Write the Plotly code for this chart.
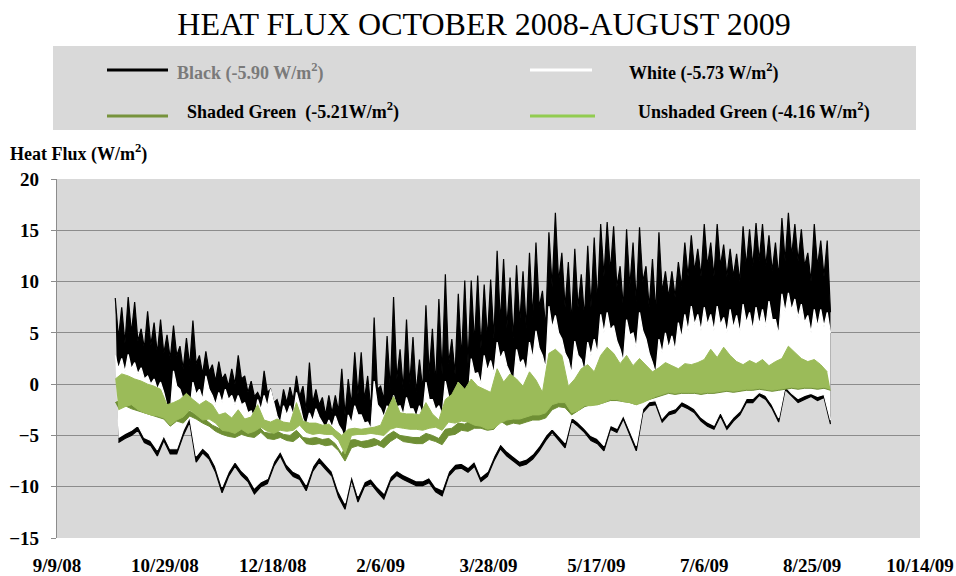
import pandas as pd
import plotly.graph_objects as go

# one reading every 3 days, first reading 6 Oct 2008
START_DATE = "2008-10-06"
N_SAMPLES = 111

# readings of each surface (W/m2), taken off the chart:
# *_hi = day peak, *_body = top of the solid part between peaks, *_lo = night low
black_hi = [8.4, 7.5, 8.5, 8.0, 5.4, 7.1, 6.0, 6.3, 4.8, 5.7,
            3.7, 4.5, 6.2, 2.8, 3.2, 1.9, 2.2, 1.0, 1.5, 2.8,
            0.8, 0.3, -0.8, 1.3, -0.5, -1.5, -0.5, -0.3, 0.8, -0.2,
            2.1, -0.5, -1.3, -1.1, -1.1, 1.5, 0.5, 3.1, 3.1, 0.8,
            6.5, -0.2, 4.7, 8.5, 3.4, 6.3, 4.6, 2.4, 7.7, 5.4,
            8.3, 10.7, 4.4, 8.8, 10.1, 10.1, 10.6, 9.7, 10.2, 13.0,
            12.2, 10.4, 11.6, 11.0, 12.8, 13.8, 9.1, 14.8, 16.7, 12.8,
            11.9, 13.2, 10.7, 13.5, 14.3, 15.6, 15.8, 15.4, 11.5, 15.1,
            13.8, 15.3, 11.5, 12.2, 14.8, 11.0, 11.0, 11.9, 13.8, 14.5,
            13.2, 15.6, 13.8, 15.6, 13.6, 13.2, 12.7, 15.4, 15.1, 15.7,
            15.6, 14.5, 13.8, 16.2, 16.7, 15.6, 15.1, 12.8, 15.6, 14.0,
            14.0]
black_body = [4.5, 4.0, 5.0, 4.2, 3.5, 3.8, 3.0, 3.0, 2.5, 2.8,
              1.5, 1.8, 2.0, 1.0, 1.2, 0.3, 0.5, -0.2, 0.0, 0.5,
              -0.8, -1.2, -1.5, -0.8, -1.8, -2.5, -1.8, -1.5, -1.2, -2.5,
              -1.8, -2.0, -3.0, -2.8, -2.6, -3.0, -2.0, -1.0, -1.5, -2.5,
              -0.5, -1.5, -0.5, 0.5, -0.5, 0.0, -0.8, -0.5, 1.0, 0.0,
              1.0, 2.0, 1.0, 2.5, 2.0, 4.0, 3.5, 4.5, 4.5, 6.0,
              5.5, 4.5, 6.0, 5.5, 6.5, 7.5, 5.5, 9.5, 10.0, 7.5,
              6.0, 7.5, 6.5, 7.5, 8.0, 10.5, 11.0, 9.5, 7.5, 9.5,
              8.0, 10.0, 7.5, 7.0, 9.0, 8.5, 8.5, 9.5, 10.5, 11.0,
              10.5, 11.5, 10.5, 11.5, 10.5, 10.5, 10.0, 11.5, 11.5, 12.0,
              11.5, 11.0, 10.5, 12.0, 12.5, 12.0, 11.5, 10.0, 11.5, 10.5,
              7.0]
black_lo = [-5.7, -5.3, -5.0, -4.5, -5.7, -6.0, -7.0, -5.5, -6.8, -6.8,
            -5.0, -3.7, -7.6, -6.7, -7.3, -8.6, -10.6, -9.0, -8.0, -8.9,
            -9.5, -10.7, -10.0, -9.7, -8.0, -7.0, -8.3, -9.0, -9.3, -10.4,
            -8.5, -7.6, -8.3, -9.0, -11.0, -12.2, -9.3, -11.5, -10.0, -9.7,
            -10.5, -11.2, -9.5, -8.9, -9.3, -9.6, -9.9, -9.9, -9.6, -10.5,
            -10.9, -9.0, -8.3, -8.2, -8.6, -8.0, -9.5, -9.0, -7.5, -6.3,
            -7.0, -7.5, -8.0, -7.8, -7.3, -6.5, -5.5, -4.7, -5.5, -6.2,
            -3.6, -4.1, -4.7, -5.5, -5.8, -6.5, -4.4, -4.7, -3.4, -5.0,
            -6.5, -2.8, -2.1, -2.0, -3.7, -3.0, -2.8, -2.1, -2.4, -2.8,
            -3.6, -4.1, -4.4, -3.1, -4.4, -3.6, -3.0, -1.8, -1.8, -1.1,
            -1.5, -2.4, -3.7, -0.5, -1.2, -1.8, -1.5, -1.2, -1.6, -1.3,
            -3.9]

white_hi = [2.8, 2.5, 2.9, 2.1, 1.6, 0.8, 0.5, 0.2, -2.1, 1.3,
            -0.5, -2.0, 0.2, -0.5, 0.8, -1.1, -0.8, -0.5, -1.1, -1.1,
            -1.8, -2.6, -1.5, -1.1, -0.5, -3.1, -2.1, -2.1, -0.8, -3.4,
            -2.8, -2.4, -3.7, -3.5, -3.1, -4.5, -3.0, -2.1, -3.0, -3.7,
            0.3, -2.4, -2.1, -1.1, -2.1, -1.3, -2.4, -2.1, 0.2, -1.5,
            -2.1, 0.3, -3.4, 0.2, -0.5, 2.5, 1.1, 2.8, 2.3, 4.1,
            3.2, 1.1, 3.4, 2.4, 4.1, 5.2, 2.8, 7.6, 6.7, 4.4,
            2.4, 4.2, 2.4, 4.1, 4.4, 6.8, 7.0, 5.7, 3.4, 6.3,
            5.0, 7.0, 4.4, 2.1, 4.4, 5.0, 4.7, 6.0, 6.8, 7.6,
            6.8, 7.5, 6.8, 7.6, 6.5, 7.3, 6.7, 7.8, 7.0, 7.5,
            7.3, 8.1, 6.3, 8.8, 8.9, 8.3, 7.8, 6.7, 7.3, 7.3,
            7.0]
white_body = [1.5, 1.2, 1.5, 1.0, 0.5, 0.0, -0.5, -0.8, -2.8, -0.2,
              -1.5, -2.8, -1.0, -1.5, -0.5, -2.0, -1.8, -1.5, -2.0, -2.0,
              -2.8, -3.4, -2.5, -2.2, -1.8, -3.8, -3.0, -3.0, -2.0, -4.0,
              -3.6, -3.2, -4.3, -4.2, -4.0, -5.5, -3.8, -3.0, -3.8, -4.4,
              -2.0, -3.2, -3.0, -2.2, -3.0, -2.4, -3.2, -3.0, -1.5, -2.5,
              -3.0, -1.2, -4.0, -1.0, -1.5, 1.0, 0.0, 1.3, 1.0, 2.5,
              1.8, 0.0, 2.0, 1.2, 2.5, 3.5, 1.5, 5.5, 5.0, 3.0,
              1.0, 2.8, 1.2, 2.8, 3.0, 5.0, 5.3, 4.2, 2.2, 4.8,
              3.5, 5.2, 3.0, 1.0, 3.0, 3.5, 3.3, 4.5, 5.2, 5.8,
              5.2, 5.8, 5.2, 5.8, 5.0, 5.5, 5.0, 6.0, 5.3, 5.8,
              5.6, 6.3, 4.8, 7.0, 7.2, 6.5, 6.0, 5.0, 5.6, 5.6,
              5.0]
white_lo = [-5.2, -4.8, -4.5, -4.0, -5.2, -5.5, -6.4, -5.0, -6.3, -6.3,
            -4.5, -3.2, -7.0, -6.2, -6.8, -8.0, -10.0, -8.5, -7.5, -8.4,
            -9.0, -10.1, -9.5, -9.2, -7.5, -6.5, -7.8, -8.5, -8.8, -9.8,
            -8.0, -7.1, -7.8, -8.5, -10.4, -11.6, -8.8, -10.9, -9.5, -9.2,
            -10.0, -10.6, -9.0, -8.4, -8.8, -9.1, -9.4, -9.4, -9.1, -10.0,
            -10.3, -8.5, -7.8, -7.7, -8.1, -7.5, -9.0, -8.5, -7.0, -5.8,
            -6.5, -7.0, -7.5, -7.3, -6.8, -6.0, -5.0, -4.3, -5.0, -5.7,
            -3.2, -3.7, -4.3, -5.0, -5.3, -6.0, -4.0, -4.3, -3.0, -4.6,
            -6.0, -2.4, -1.7, -1.6, -3.3, -2.6, -2.4, -1.7, -2.0, -2.4,
            -3.2, -3.7, -4.0, -2.7, -4.0, -3.2, -2.6, -1.4, -1.4, -0.8,
            -1.1, -2.0, -3.3, -0.2, -0.9, -1.4, -1.1, -0.9, -1.2, -1.0,
            -3.5]

shaded_hi = [-1.8, -1.5, -1.8, -2.0, -2.2, -2.4, -2.6, -2.8, -3.5, -3.0,
             -3.2, -2.5, -2.8, -3.2, -3.5, -4.0, -4.3, -4.5, -4.6, -4.3,
             -4.5, -4.6, -4.0, -4.7, -4.8, -4.6, -4.9, -5.0, -4.5, -5.2,
             -5.3, -5.2, -5.4, -5.3, -5.8, -6.8, -5.5, -5.4, -5.6, -5.5,
             -5.3, -5.6, -5.0, -4.6, -5.0, -5.1, -5.2, -5.2, -4.8, -5.0,
             -5.3, -4.4, -4.3, -3.8, -3.9, -3.5, -3.6, -3.8, -3.6, -2.8,
             -3.0, -2.8, -2.9, -2.8, -2.5, -2.6, -2.5, -1.2, -1.0, -1.2,
             -2.0, -1.5, -1.0, -0.8, -1.0, -0.5, 0.0, -0.3, -0.6, -0.4,
             -0.8, -0.5, -0.4, -0.6, -0.3, 0.2, 0.0, -0.2, 0.3, 0.2,
             0.3, 0.5, 1.0, 0.6, 1.2, 0.8, 0.5, 0.3, 0.6, 0.4,
             0.7, 0.3, 0.5, 0.8, 1.5, 1.0, 0.7, 0.5, 0.7, 0.4,
             0.0]
shaded_lo = [-2.4, -2.1, -2.4, -2.6, -2.8, -3.0, -3.2, -3.4, -4.1, -3.6,
             -3.8, -3.1, -3.4, -3.8, -4.1, -4.6, -4.9, -5.1, -5.2, -4.9,
             -5.1, -5.2, -4.7, -5.3, -5.4, -5.2, -5.5, -5.6, -5.1, -5.8,
             -5.9, -5.8, -6.0, -5.9, -6.5, -7.5, -6.2, -6.0, -6.2, -6.1,
             -5.9, -6.2, -5.6, -5.2, -5.6, -5.7, -5.8, -5.8, -5.4, -5.6,
             -5.9, -5.0, -4.9, -4.5, -4.6, -4.3, -4.3, -4.5, -4.4, -3.6,
             -4.0, -3.8, -3.9, -3.7, -3.5, -3.5, -3.3, -2.5, -2.2, -2.3,
             -3.0, -2.6, -2.2, -2.0, -2.0, -1.8, -1.6, -1.6, -1.7, -1.8,
             -2.0, -1.7, -1.5, -1.3, -1.1, -0.9, -1.0, -0.9, -0.9, -0.9,
             -1.0, -0.9, -0.9, -0.8, -0.7, -0.8, -0.7, -0.6, -0.6, -0.5,
             -0.6, -0.7, -0.6, -0.5, -0.4, -0.5, -0.4, -0.4, -0.5, -0.4,
             -0.6]

unshaded_hi = [0.5, 1.0, 0.8, 0.5, 0.3, 0.0, -0.2, -0.5, -2.0, -1.8,
               -1.5, -0.9, -1.5, -2.0, -1.6, -2.0, -3.0, -2.8, -3.3, -2.5,
               -3.4, -3.2, -2.0, -3.5, -3.7, -3.4, -3.7, -3.8, -1.8, -3.6,
               -3.8, -3.8, -4.0, -3.9, -4.5, -5.0, -4.4, -4.3, -4.4, -4.3,
               -4.2, -4.0, -2.5, -1.2, -2.8, -2.9, -2.9, -3.0, -1.8, -2.9,
               -3.5, -1.5, -1.0, 0.2, -0.5, 0.5, -0.2, -0.5, -0.8, 1.5,
               0.2, 1.0, 0.5, -0.2, 1.2, 0.4, -0.8, 3.0, 3.4, 2.8,
               -0.2, 0.5, 1.5, 1.9, 1.2, 2.8, 3.6, 3.0, 2.0, 2.8,
               1.8, 2.5, 1.9, 1.2, 1.6, 2.1, 1.8, 1.5, 2.0, 1.9,
               2.1, 2.4, 3.4, 2.6, 3.6, 2.8, 2.2, 1.9, 2.3, 2.0,
               2.4, 1.8, 2.2, 2.5, 3.7, 3.1, 2.5, 2.2, 2.4, 1.9,
               1.2]
unshaded_lo = [-2.5, -2.2, -2.0, -2.5, -2.8, -3.0, -3.1, -3.3, -4.0, -3.5,
               -3.2, -2.5, -3.0, -3.5, -3.4, -3.8, -4.5, -4.6, -4.8, -4.4,
               -4.8, -4.6, -4.2, -4.6, -4.8, -4.5, -4.6, -4.5, -4.0, -4.7,
               -4.9, -4.8, -4.9, -4.9, -5.5, -6.8, -5.0, -4.9, -4.9, -4.8,
               -4.9, -5.0, -4.4, -4.2, -4.3, -4.4, -4.4, -4.5, -4.3, -4.2,
               -4.5, -3.7, -3.8, -3.6, -3.7, -4.0, -4.1, -4.4, -4.3, -3.8,
               -3.5, -3.4, -3.4, -3.2, -3.0, -3.0, -2.8, -2.0, -1.8, -1.8,
               -2.8, -2.6, -2.1, -2.1, -2.0, -1.8, -1.5, -1.5, -1.7, -1.8,
               -2.0, -1.8, -1.5, -1.2, -1.0, -0.8, -0.9, -0.8, -0.8, -0.8,
               -0.9, -0.8, -0.8, -0.7, -0.6, -0.7, -0.6, -0.5, -0.5, -0.4,
               -0.5, -0.6, -0.5, -0.4, -0.3, -0.4, -0.3, -0.3, -0.4, -0.3,
               -0.5]

# x axis ticks (every 50 days)
tick_dates = ["2008-09-09", "2008-10-29", "2008-12-18", "2009-02-06", "2009-03-28",
              "2009-05-17", "2009-07-06", "2009-08-25", "2009-10-14"]
tick_text = ["9/9/08", "10/29/08", "12/18/08", "2/6/09", "3/28/09",
             "5/17/09", "7/6/09", "8/25/09", "10/14/09"]

SERIF = "Liberation Serif, Times New Roman, serif"

day_dates = pd.date_range(START_DATE, periods=N_SAMPLES, freq="3D")
night_dates = day_dates + pd.Timedelta(hours=36)


def spiky_top(hi, body):
    # peak on the day, back down to the solid part half a step later
    xs, ys = [], []
    for d, n, h, b in zip(day_dates, night_dates, hi, body):
        xs += [d, n]
        ys += [h, b]
    return xs, ys


fig = go.Figure()
series = [
    (black_hi, black_body, black_lo, "#000000", 1.2),
    (white_hi, white_body, white_lo, "#ffffff", 1.2),
    (shaded_hi, None, shaded_lo, "#6f8f35", 1.0),
    (unshaded_hi, None, unshaded_lo, "#9bbb59", 1.0),
]
for hi, body, lo, color, width in series:
    fig.add_trace(go.Scatter(x=night_dates, y=lo, mode="lines", showlegend=False,
                             line=dict(color=color, width=width), hoverinfo="skip"))
    if body is None:
        xs, ys = day_dates, hi
    else:
        xs, ys = spiky_top(hi, body)
    fig.add_trace(go.Scatter(x=xs, y=ys, mode="lines", showlegend=False,
                             line=dict(color=color, width=width), fill="tonexty",
                             fillcolor=color, hoverinfo="skip"))

# pixel helpers for the hand drawn legend
L, T, W, H = 57, 179, 863, 359


def px(x):
    return (x - L) / W


def py(y):
    return (T + H - y) / H


shapes = [dict(type="rect", xref="paper", yref="paper", x0=px(53), x1=px(916),
               y0=py(130), y1=py(46), fillcolor="#d9d9d9", line=dict(width=0), layer="below")]
legend_items = [
    ("#000000", 107, 168, 70, "Black (-5.90 W/m<sup>2</sup>)", "#7a7a7a", 175, 72, 18),
    ("#ffffff", 530, 592, 70, "White (-5.73 W/m<sup>2</sup>)", "#000000", 627, 72, 18),
    ("#77933c", 107, 168, 116, "Shaded Green  (-5.21W/m<sup>2</sup>)", "#000000", 185, 111, 18),
    ("#92cc50", 530, 595, 116, "Unshaded Green (-4.16 W/m<sup>2</sup>)", "#000000", 636, 111, 18),
]
annotations = []
for color, x0, x1, ly, label, tcolor, tx, ty, size in legend_items:
    shapes.append(dict(type="line", xref="paper", yref="paper", x0=px(x0), x1=px(x1),
                       y0=py(ly), y1=py(ly), line=dict(color=color, width=3)))
    annotations.append(dict(text=label, xref="paper", yref="paper", x=px(tx), y=py(ty),
                            xanchor="left", yanchor="middle", showarrow=False,
                            font=dict(family=SERIF, size=size, color=tcolor, weight="bold")))

annotations.append(dict(text="Heat Flux (W/m<sup>2</sup>)", xref="paper", yref="paper",
                        x=px(8), y=py(153), xanchor="left", yanchor="middle", showarrow=False,
                        font=dict(family=SERIF, size=18, color="#000000", weight="bold")))

fig.update_layout(
    width=956, height=576,
    margin=dict(l=L, r=956 - L - W, t=T, b=576 - T - H),
    paper_bgcolor="#ffffff", plot_bgcolor="#d9d9d9",
    title=dict(text="HEAT FLUX OCTOBER 2008-AUGUST 2009", x=484 / 956, xanchor="center",
               y=1 - 24 / 576, yanchor="middle",
               font=dict(family=SERIF, size=32, color="#000000")),
    shapes=shapes, annotations=annotations,
)
fig.update_xaxes(range=["2008-09-09", "2009-10-14"], tickvals=tick_dates, ticktext=tick_text,
                 showgrid=False, zeroline=False, showline=False, ticks="",
                 ticklabelstandoff=14, automargin=False,
                 tickfont=dict(family=SERIF, size=19, color="#000000", weight="bold"))
fig.update_yaxes(range=[-15, 20], dtick=5, showgrid=True, gridcolor="#8c8c8c", gridwidth=1.3,
                 zeroline=False, showline=True, linecolor="#8c8c8c", linewidth=1.3,
                 ticks="outside", ticklen=5, tickcolor="#8c8c8c", ticklabelstandoff=8,
                 automargin=False,
                 tickfont=dict(family=SERIF, size=19, color="#000000", weight="bold"))

fig.write_html("out.html", config={"displayModeBar": False},
               post_script="document.body.style.margin='0';")
